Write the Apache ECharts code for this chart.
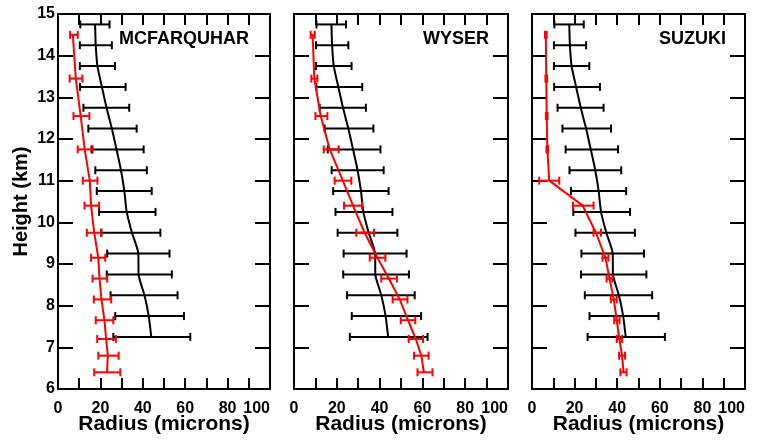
<!DOCTYPE html>
<html>
<head>
<meta charset="utf-8">
<script src="https://cdn.jsdelivr.net/npm/echarts@6/dist/echarts.min.js"></script>
<style>
  html, body { margin: 0; padding: 0; background: #ffffff; }
  #chart { width: 759px; height: 442px; }
</style>
</head>
<body>
<div id="chart"></div>
<script>
// Observed profile (black), shared by all three panels: mean radius and spread per level
const obsHeights = [14.75, 14.25, 13.75, 13.25, 12.75, 12.25, 11.75, 11.25, 10.75, 10.25, 9.75, 9.25, 8.75, 8.25, 7.75, 7.25];
const obsMean    = [17.5, 17.8, 18.6, 20.7, 22.9, 25.4, 27.6, 29.7, 31.3, 32.4, 34.9, 37.9, 38.0, 40.8, 42.8, 44.0];
const obsLow     = [10.5, 10.3, 10.3, 10.4, 12.0, 14.3, 15.8, 17.6, 18.3, 19.4, 20.4, 23.2, 23.0, 24.8, 27.0, 26.1];
const obsHigh    = [24.3, 25.4, 26.9, 31.9, 33.6, 37.1, 40.4, 41.9, 44.2, 46.0, 48.3, 52.6, 53.7, 56.4, 59.4, 62.4];

// Model levels (red)
const modelHeights = [14.5, 13.45, 12.55, 11.75, 11.0, 10.4, 9.75, 9.15, 8.65, 8.15, 7.65, 7.2, 6.8, 6.4];

const mcfarquharMean = [7.0, 8.4, 10.7, 12.6, 15.0, 15.6, 17.1, 19.0, 19.6, 20.5, 21.9, 22.7, 23.5, 23.1];
const mcfarquharLow  = [5.7, 5.5, 7.3, 9.3, 11.7, 12.5, 13.6, 15.6, 16.3, 16.9, 17.8, 18.5, 19.0, 17.1];
const mcfarquharHigh = [9.3, 11.5, 14.8, 16.3, 18.6, 19.4, 20.5, 22.3, 23.2, 25.1, 26.1, 27.3, 28.6, 29.4];

const wyserMean = [8.7, 9.5, 12.5, 16.7, 22.8, 27.6, 33.0, 39.0, 44.3, 49.4, 53.3, 56.9, 59.5, 60.7];
const wyserLow  = [7.8, 8.1, 10.0, 13.9, 19.0, 23.4, 29.1, 35.4, 40.8, 46.1, 49.9, 53.6, 56.1, 57.7];
const wyserHigh = [9.7, 10.9, 15.6, 20.9, 26.8, 31.8, 37.4, 42.7, 48.1, 53.0, 56.7, 60.3, 62.9, 64.7];

const suzukiMean = [6.5, 6.7, 6.9, 7.2, 8.1, 23.8, 30.0, 34.5, 36.4, 38.4, 39.8, 41.0, 42.3, 43.0];
const suzukiLow  = [6.1, 6.3, 6.5, 6.8, 3.4, 19.2, 28.9, 33.1, 35.0, 37.0, 38.6, 39.8, 40.9, 41.5];
const suzukiHigh = [6.9, 7.1, 7.3, 7.6, 12.8, 28.9, 32.4, 35.9, 37.8, 39.8, 41.1, 42.3, 43.7, 44.4];

const panelNames = ['MCFARQUHAR', 'WYSER', 'SUZUKI'];
const panelMean = [mcfarquharMean, wyserMean, suzukiMean];
const panelLow  = [mcfarquharLow, wyserLow, suzukiLow];
const panelHigh = [mcfarquharHigh, wyserHigh, suzukiHigh];

const xLabelStep = 20;
const xName = 'Radius (microns)';
const yName = 'Height (km)';

const FONT = "'Liberation Sans', Arial, Helvetica, sans-serif";
const RED = '#ff0000';
const BLACK = '#000000';

const grids = [
  { left: 58, top: 14, width: 212, height: 375, outerBoundsMode: 'none', containLabel: false },
  { left: 294, top: 14, width: 214, height: 375, outerBoundsMode: 'none', containLabel: false },
  { left: 532, top: 14, width: 213, height: 375, outerBoundsMode: 'none', containLabel: false }
];
const titlePos = [{ left: 119, top: 30 }, { left: 423, top: 30 }, { left: 659, top: 30 }];

function zip(xs, ys) { return xs.map((x, i) => [x, ys[i]]); }
function bars(lo, hi, ys) { return lo.map((l, i) => [l, hi[i], ys[i]]); }

// Horizontal error bar with end caps
function errorBarRenderer(color) {
  return function (params, api) {
    const y = api.value(2);
    const a = api.coord([api.value(0), y]);
    const b = api.coord([api.value(1), y]);
    const cap = 4;
    const style = { stroke: color, lineWidth: 2 };
    return {
      type: 'group',
      children: [
        { type: 'line', shape: { x1: a[0], y1: a[1], x2: b[0], y2: b[1] }, style },
        { type: 'line', shape: { x1: a[0], y1: a[1] - cap, x2: a[0], y2: a[1] + cap }, style },
        { type: 'line', shape: { x1: b[0], y1: b[1] - cap, x2: b[0], y2: b[1] + cap }, style }
      ]
    };
  };
}

const axisLine = { show: true, onZero: false, lineStyle: { color: BLACK, width: 2 } };

const xAxis = [], yAxis = [], series = [], title = [];
grids.forEach((g, i) => {
  xAxis.push({
    type: 'value', gridIndex: i, position: 'bottom', min: 0, max: 100, interval: 10,
    axisLine, splitLine: { show: false },
    axisTick: { inside: true, length: 11, lineStyle: { color: BLACK, width: 2 } },
    axisLabel: {
      color: BLACK, fontFamily: FONT, fontWeight: 'bold', fontSize: 16, margin: 12,
      alignMaxLabel: 'right',
      formatter: v => (v % xLabelStep === 0 ? String(v) : '')
    },
    name: xName, nameLocation: 'middle', nameGap: 25, nameMoveOverlap: false,
    nameTextStyle: { color: BLACK, fontFamily: FONT, fontWeight: 'bold', fontSize: 21 }
  });
  xAxis.push({
    type: 'value', gridIndex: i, position: 'top', min: 0, max: 100, interval: 10,
    axisLine, splitLine: { show: false },
    axisTick: { inside: true, length: 11, lineStyle: { color: BLACK, width: 2 } },
    axisLabel: { show: false }
  });
  yAxis.push({
    type: 'value', gridIndex: i, position: 'left', min: 6, max: 15, interval: 1,
    axisLine, splitLine: { show: false },
    axisTick: { inside: true, length: 15, lineStyle: { color: BLACK, width: 2 } },
    axisLabel: {
      show: i === 0, color: BLACK, fontFamily: FONT, fontWeight: 'bold', fontSize: 16, margin: 3
    },
    name: i === 0 ? yName : '', nameLocation: 'middle', nameGap: 27,
    nameTextStyle: { color: BLACK, fontFamily: FONT, fontWeight: 'bold', fontSize: 20 }
  });
  yAxis.push({
    type: 'value', gridIndex: i, position: 'right', min: 6, max: 15, interval: 1,
    axisLine, splitLine: { show: false },
    axisTick: { inside: true, length: 15, lineStyle: { color: BLACK, width: 2 } },
    axisLabel: { show: false }
  });

  title.push({
    text: panelNames[i], left: titlePos[i].left, top: titlePos[i].top, padding: 0,
    textStyle: { color: BLACK, fontFamily: FONT, fontWeight: 'bold', fontSize: 18 }
  });

  const xi = i * 2, yi = i * 2;
  series.push({
    type: 'custom', xAxisIndex: xi, yAxisIndex: yi,
    renderItem: errorBarRenderer(BLACK),
    data: bars(obsLow, obsHigh, obsHeights), silent: true, z: 2
  });
  series.push({
    type: 'line', xAxisIndex: xi, yAxisIndex: yi, data: zip(obsMean, obsHeights),
    showSymbol: false, smooth: 0.2, lineStyle: { color: BLACK, width: 2 }, silent: true, z: 3
  });
  series.push({
    type: 'custom', xAxisIndex: xi, yAxisIndex: yi,
    renderItem: errorBarRenderer(RED),
    data: bars(panelLow[i], panelHigh[i], modelHeights), silent: true, z: 4
  });
  series.push({
    type: 'line', xAxisIndex: xi, yAxisIndex: yi, data: zip(panelMean[i], modelHeights),
    showSymbol: false, smooth: false, lineStyle: { color: RED, width: 2 }, silent: true, z: 5
  });
});

const chart = echarts.init(document.getElementById('chart'), null, { renderer: 'canvas' });
chart.setOption({
  animation: false,
  backgroundColor: '#ffffff',
  title, grid: grids, xAxis, yAxis, series
});
</script>
</body>
</html>
